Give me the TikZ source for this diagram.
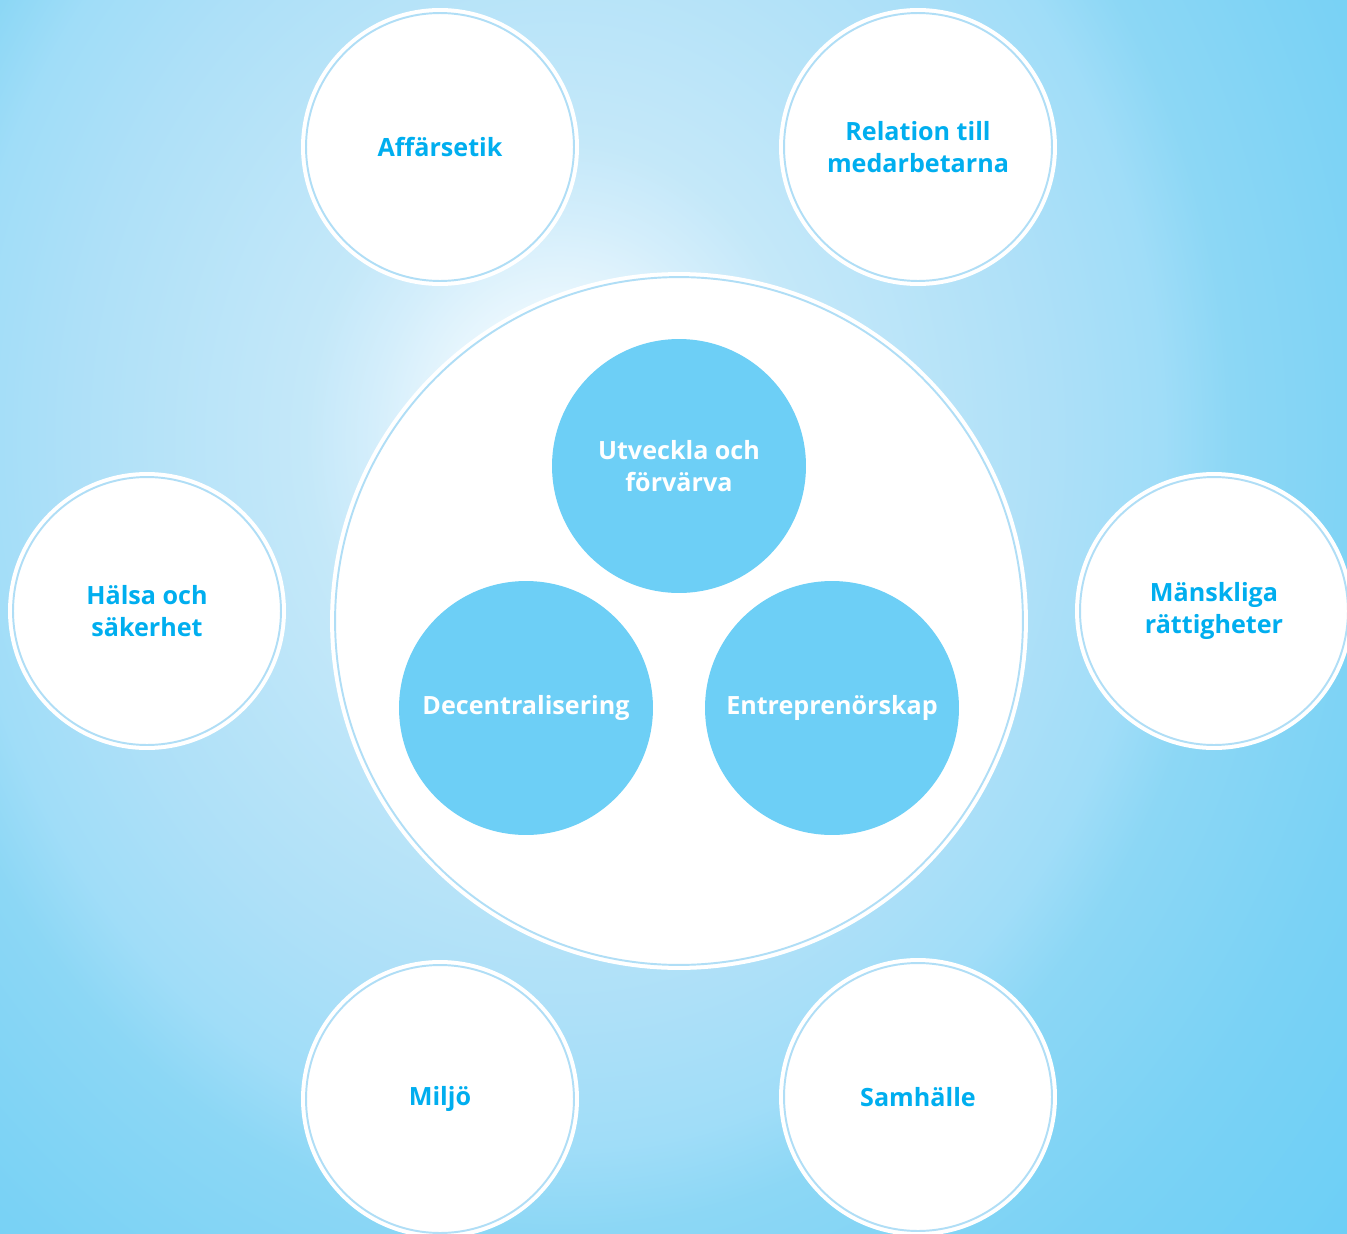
\documentclass[tikz,border=0pt]{standalone}
\usepackage{fontspec}
\setmainfont{Open Sans}
\definecolor{bgA}{HTML}{F2FAFE}
\definecolor{bgB}{HTML}{D4EEFB}
\definecolor{bgC}{HTML}{C4E8F9}
\definecolor{bgD}{HTML}{AEE0F8}
\definecolor{bgE}{HTML}{A0DDF8}
\definecolor{bgF}{HTML}{8CD7F5}
\definecolor{bgG}{HTML}{7AD2F5}
\definecolor{bgH}{HTML}{6DCFF6}
\definecolor{ringblue}{HTML}{B0DEF6}
\definecolor{innerfill}{HTML}{6DCFF6}
\definecolor{cyantext}{HTML}{00AEEF}
\pgfdeclareradialshading{bgshade}{\pgfpoint{0bp}{0bp}}{color(0bp)=(white); color(2bp)=(bgA); color(4.5bp)=(bgB); color(6.15bp)=(bgC); color(11.7bp)=(bgD); color(14.5bp)=(bgE); color(16.2bp)=(bgF); color(20.5bp)=(bgG); color(25bp)=(bgH); color(50bp)=(bgH)}
\tikzset{
  labelfont/.style={font=\bfseries\fontsize{14.3}{18.2}\selectfont, align=center},
  outerc/.style={circle, inner sep=0pt, minimum size=5.36cm, fill=white, draw=ringblue, line width=1.1pt,
    preaction={draw=white, line width=0.2cm}, labelfont, text=cyantext},
  bigc/.style={circle, inner sep=0pt, minimum size=13.76cm, fill=white, draw=ringblue, line width=1.1pt,
    preaction={draw=white, line width=0.2cm}},
  innerc/.style={circle, inner sep=0pt, minimum size=5.08cm, fill=innerfill, labelfont, text=white}
}
\begin{document}
\begin{tikzpicture}[x=0.02cm,y=-0.02cm]
\useasboundingbox (0,0) rectangle (1347,1234);
\begin{scope}
  \clip (0,0) rectangle (1347,1234);
  \shade[shading=bgshade] (560,440) ellipse[x radius=1037, y radius=1220];
  \node[bigc] (big) at (679,621) {};
  \node[innerc] (utv) at (679,466) {Utveckla och\\förvärva};
  \node[innerc] (dec) at (526,708) {Decentralisering};
  \node[innerc] (ent) at (832,708) {Entreprenörskap};
  \node[outerc] (aff) at (440,147) {Affärsetik};
  \node[outerc] (rel) at (918,147) {Relation till\\medarbetarna};
  \node[outerc] (hal) at (147,611) {Hälsa och\\säkerhet};
  \node[outerc] (man) at (1214,611) {Mänskliga\\rättigheter};
  \node[outerc] (mil) at (440,1099) {Miljö};
  \node[outerc] (sam) at (918,1097) {Samhälle};
\end{scope}
\end{tikzpicture}
\end{document}
